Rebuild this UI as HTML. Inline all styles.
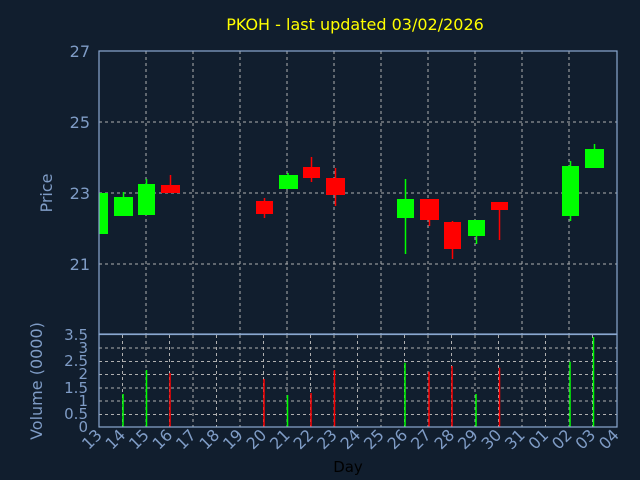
<!DOCTYPE html>
<html><head><style>
html,body{margin:0;padding:0;background:#111e2e;}
svg{display:block;font-family:"DejaVu Sans","Liberation Sans",sans-serif;}
</style></head><body>
<svg width="640" height="480" xmlns="http://www.w3.org/2000/svg">
<rect width="640" height="480" fill="#111e2e"/>
<text x="355" y="30" fill="#ffff00" font-size="16" text-anchor="middle">PKOH - last updated 03/02/2026</text>
<g stroke="#b0b0b0" stroke-dasharray="3,3" stroke-width="1">
<line x1="99" y1="122" x2="617" y2="122"/><line x1="99" y1="193" x2="617" y2="193"/><line x1="99" y1="264" x2="617" y2="264"/>
<line x1="146" y1="51" x2="146" y2="334"/><line x1="193" y1="51" x2="193" y2="334"/><line x1="240" y1="51" x2="240" y2="334"/><line x1="287" y1="51" x2="287" y2="334"/><line x1="334" y1="51" x2="334" y2="334"/><line x1="381" y1="51" x2="381" y2="334"/><line x1="428" y1="51" x2="428" y2="334"/><line x1="475" y1="51" x2="475" y2="334"/><line x1="522" y1="51" x2="522" y2="334"/><line x1="569" y1="51" x2="569" y2="334"/>
<line x1="99" y1="348" x2="617" y2="348"/><line x1="99" y1="361.5" x2="617" y2="361.5"/><line x1="99" y1="374.5" x2="617" y2="374.5"/><line x1="99" y1="388" x2="617" y2="388"/><line x1="99" y1="401" x2="617" y2="401"/><line x1="99" y1="414.5" x2="617" y2="414.5"/>
<line x1="122.5" y1="335" x2="122.5" y2="427"/><line x1="146" y1="335" x2="146" y2="427"/><line x1="169.5" y1="335" x2="169.5" y2="427"/><line x1="193" y1="335" x2="193" y2="427"/><line x1="216.5" y1="335" x2="216.5" y2="427"/><line x1="240" y1="335" x2="240" y2="427"/><line x1="263.5" y1="335" x2="263.5" y2="427"/><line x1="287" y1="335" x2="287" y2="427"/><line x1="310.5" y1="335" x2="310.5" y2="427"/><line x1="334" y1="335" x2="334" y2="427"/><line x1="357.5" y1="335" x2="357.5" y2="427"/><line x1="381" y1="335" x2="381" y2="427"/><line x1="404.5" y1="335" x2="404.5" y2="427"/><line x1="428" y1="335" x2="428" y2="427"/><line x1="451.5" y1="335" x2="451.5" y2="427"/><line x1="475" y1="335" x2="475" y2="427"/><line x1="498.5" y1="335" x2="498.5" y2="427"/><line x1="522" y1="335" x2="522" y2="427"/><line x1="545.5" y1="335" x2="545.5" y2="427"/><line x1="569" y1="335" x2="569" y2="427"/><line x1="592.5" y1="335" x2="592.5" y2="427"/>
</g>
<!-- candles -->
<g stroke-width="1.5">
<rect x="99" y="193" width="9" height="41" fill="#00ff00"/>
<line x1="123.5" y1="192" x2="123.5" y2="197" stroke="#00ff00"/><rect x="114" y="197" width="19" height="19" fill="#00ff00"/>
<line x1="146.5" y1="179" x2="146.5" y2="184" stroke="#00ff00"/><rect x="138" y="184" width="17" height="31" fill="#00ff00"/>
<line x1="170.5" y1="175" x2="170.5" y2="185" stroke="#ff0000"/><rect x="161" y="185" width="19" height="8" fill="#ff0000"/>
<line x1="264.5" y1="198" x2="264.5" y2="218" stroke="#ff0000"/><rect x="256" y="201" width="17" height="13" fill="#ff0000"/>
<line x1="288" y1="173" x2="288" y2="175" stroke="#00ff00"/><rect x="279" y="175" width="19" height="14" fill="#00ff00"/>
<line x1="311.5" y1="157" x2="311.5" y2="182" stroke="#ff0000"/><rect x="303" y="167" width="17" height="11" fill="#ff0000"/>
<line x1="335.5" y1="168" x2="335.5" y2="206" stroke="#ff0000"/><rect x="326" y="178" width="19" height="17" fill="#ff0000"/>
<line x1="405.5" y1="179" x2="405.5" y2="254" stroke="#00ff00"/><rect x="397" y="199" width="17" height="19" fill="#00ff00"/>
<line x1="429.5" y1="199" x2="429.5" y2="226" stroke="#ff0000"/><rect x="420" y="199" width="19" height="21" fill="#ff0000"/>
<line x1="452.5" y1="221" x2="452.5" y2="259" stroke="#ff0000"/><rect x="444" y="222" width="17" height="27" fill="#ff0000"/>
<line x1="476.5" y1="220" x2="476.5" y2="244" stroke="#00ff00"/><rect x="468" y="220" width="17" height="16" fill="#00ff00"/>
<line x1="499.5" y1="202" x2="499.5" y2="240" stroke="#ff0000"/><rect x="491" y="202" width="17" height="8" fill="#ff0000"/>
<line x1="570.5" y1="161" x2="570.5" y2="221" stroke="#00ff00"/><rect x="562" y="166" width="17" height="50" fill="#00ff00"/>
<line x1="594.5" y1="144" x2="594.5" y2="149" stroke="#00ff00"/><rect x="585" y="149" width="19" height="19" fill="#00ff00"/>
</g>
<!-- volume -->
<g stroke-width="1.5">
<line x1="123" y1="394" x2="123" y2="427" stroke="#00ff00"/>
<line x1="146.5" y1="370" x2="146.5" y2="427" stroke="#00ff00"/>
<line x1="170" y1="373" x2="170" y2="427" stroke="#ff0000"/>
<line x1="264" y1="379" x2="264" y2="427" stroke="#ff0000"/>
<line x1="287.5" y1="395" x2="287.5" y2="427" stroke="#00ff00"/>
<line x1="311" y1="393" x2="311" y2="427" stroke="#ff0000"/>
<line x1="334.5" y1="370" x2="334.5" y2="427" stroke="#ff0000"/>
<line x1="405" y1="362.7" x2="405" y2="427" stroke="#00ff00"/>
<line x1="429" y1="371.7" x2="429" y2="427" stroke="#ff0000"/>
<line x1="452" y1="366" x2="452" y2="427" stroke="#ff0000"/>
<line x1="476" y1="394" x2="476" y2="427" stroke="#00ff00"/>
<line x1="499.5" y1="367.7" x2="499.5" y2="427" stroke="#ff0000"/>
<line x1="570" y1="361.7" x2="570" y2="427" stroke="#00ff00"/>
<line x1="593.5" y1="337" x2="593.5" y2="427" stroke="#00ff00"/>
</g>
<!-- axes -->
<g stroke="#8aa8d0" stroke-width="1.2" fill="none">
<rect x="99" y="51" width="518" height="283"/>
<rect x="99" y="334.5" width="518" height="92.5"/>
</g>
<g fill="#7f9cc6" font-size="16" text-anchor="end">
<text x="90" y="57">27</text><text x="90" y="128">25</text><text x="90" y="199">23</text><text x="90" y="270">21</text>
</g>
<g fill="#7f9cc6" font-size="15" text-anchor="end">
<text x="88" y="340">3.5</text><text x="88" y="353">3</text><text x="88" y="366">2.5</text><text x="88" y="379">2</text><text x="88" y="393">1.5</text><text x="88" y="406">1</text><text x="88" y="419">0.5</text><text x="88" y="432">0</text>
</g>
<text transform="translate(52,193) rotate(-90)" fill="#7f9cc6" font-size="16" text-anchor="middle">Price</text>
<text transform="translate(42,381) rotate(-90)" fill="#7f9cc6" font-size="16" text-anchor="middle">Volume (0000)</text>
<text x="348" y="472" fill="#000" font-size="15" text-anchor="middle">Day</text>
<g fill="#7f9cc6" font-size="16" text-anchor="end">
<text transform="translate(103,436) rotate(-45)">13</text>
<text transform="translate(126.5,436) rotate(-45)">14</text>
<text transform="translate(150,436) rotate(-45)">15</text>
<text transform="translate(173.5,436) rotate(-45)">16</text>
<text transform="translate(197,436) rotate(-45)">17</text>
<text transform="translate(220.5,436) rotate(-45)">18</text>
<text transform="translate(244,436) rotate(-45)">19</text>
<text transform="translate(267.5,436) rotate(-45)">20</text>
<text transform="translate(291,436) rotate(-45)">21</text>
<text transform="translate(314.5,436) rotate(-45)">22</text>
<text transform="translate(338,436) rotate(-45)">23</text>
<text transform="translate(361.5,436) rotate(-45)">24</text>
<text transform="translate(385,436) rotate(-45)">25</text>
<text transform="translate(408.5,436) rotate(-45)">26</text>
<text transform="translate(432,436) rotate(-45)">27</text>
<text transform="translate(455.5,436) rotate(-45)">28</text>
<text transform="translate(479,436) rotate(-45)">29</text>
<text transform="translate(502.5,436) rotate(-45)">30</text>
<text transform="translate(526,436) rotate(-45)">31</text>
<text transform="translate(549.5,436) rotate(-45)">01</text>
<text transform="translate(573,436) rotate(-45)">02</text>
<text transform="translate(596.5,436) rotate(-45)">03</text>
<text transform="translate(620,436) rotate(-45)">04</text>
</g>
</svg>
</body></html>
